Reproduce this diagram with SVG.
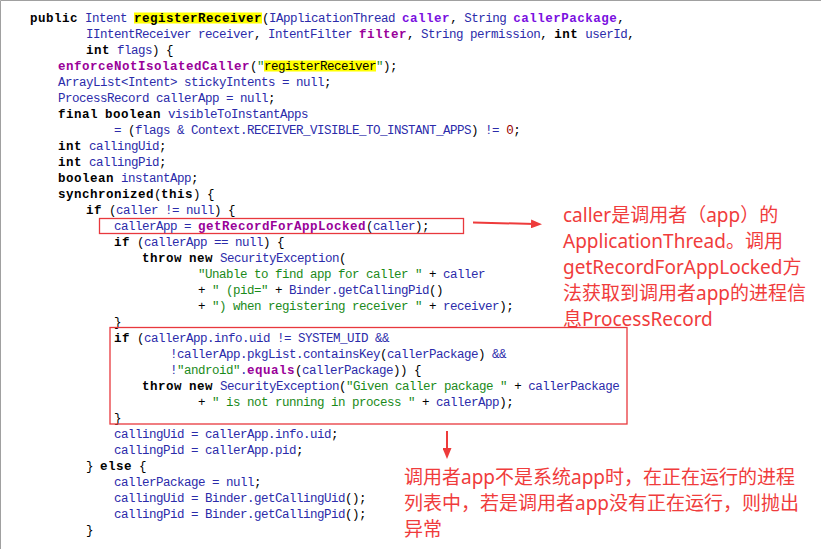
<svg xmlns="http://www.w3.org/2000/svg" width="821" height="549" viewBox="0 0 821 549">
<defs>
<style>
.c{font-family:"Liberation Mono","DejaVu Sans Mono",monospace;font-size:12.5px;letter-spacing:-0.5px;fill:#2B2BAA;}
.k{font-weight:bold;letter-spacing:0.5px;fill:#000;}
.o{fill:#000;}
.m{font-weight:bold;letter-spacing:0.5px;fill:#990099;}
.v{font-weight:bold;letter-spacing:0.5px;fill:#7A10E0;}
.s{fill:#1A8A1A;}
.n{fill:#990000;}
.hl{fill:#FFFF00;}
.box{fill:none;stroke:#E8383D;stroke-width:1.3;}
.arr{stroke:#EE3B3B;stroke-width:2;fill:none;}
.note{font-family:"Noto Sans","Noto Sans CJK SC",sans-serif;font-size:19px;fill:#F03C3C;}
</style>
<marker id="ah" markerUnits="userSpaceOnUse" markerWidth="12" markerHeight="9" refX="4" refY="4.5" orient="auto">
<path d="M0,0 L11,4.5 L0,9 Z" fill="#EE3B3B"/>
</marker>
</defs>
<rect x="0" y="0" width="821" height="549" fill="#FFFFFF"/>
<path d="M0.5,549 V0.5 H821" stroke="#A0A0A0" stroke-width="1" fill="none"/>

<g id="code">
<rect class="hl" x="134" y="12.5" width="128" height="11"/>
<rect class="hl" x="264" y="60.5" width="112" height="11"/>
<text class="c" x="30" y="22"><tspan class="k">public</tspan> Intent <tspan class="k">registerReceiver</tspan><tspan class="o">(</tspan>IApplicationThread <tspan class="v">caller</tspan><tspan class="o">,</tspan> String <tspan class="v">callerPackage</tspan><tspan class="o">,</tspan></text>
<text class="c" x="86" y="38">IIntentReceiver receiver<tspan class="o">,</tspan> IntentFilter <tspan class="m">filter</tspan><tspan class="o">,</tspan> String permission<tspan class="o">,</tspan> <tspan class="k">int</tspan> userId<tspan class="o">,</tspan></text>
<text class="c" x="86" y="54"><tspan class="k">int</tspan> flags<tspan class="o">) {</tspan></text>
<text class="c" x="58" y="70"><tspan class="m">enforceNotIsolatedCaller</tspan><tspan class="o">(</tspan><tspan class="s">"</tspan><tspan class="o">registerReceiver</tspan><tspan class="s">"</tspan><tspan class="o">);</tspan></text>
<text class="c" x="58" y="86">ArrayList&lt;Intent&gt; stickyIntents = null<tspan class="o">;</tspan></text>
<text class="c" x="58" y="102">ProcessRecord callerApp = null<tspan class="o">;</tspan></text>
<text class="c" x="58" y="118"><tspan class="k">final</tspan> <tspan class="k">boolean</tspan> visibleToInstantApps</text>
<text class="c" x="114" y="134">= <tspan class="o">(</tspan>flags &amp; Context.RECEIVER_VISIBLE_TO_INSTANT_APPS<tspan class="o">)</tspan> != <tspan class="n">0</tspan><tspan class="o">;</tspan></text>
<text class="c" x="58" y="150"><tspan class="k">int</tspan> callingUid<tspan class="o">;</tspan></text>
<text class="c" x="58" y="166"><tspan class="k">int</tspan> callingPid<tspan class="o">;</tspan></text>
<text class="c" x="58" y="182"><tspan class="k">boolean</tspan> instantApp<tspan class="o">;</tspan></text>
<text class="c" x="58" y="198"><tspan class="k">synchronized</tspan><tspan class="o">(</tspan><tspan class="k">this</tspan><tspan class="o">) {</tspan></text>
<text class="c" x="86" y="214"><tspan class="k">if</tspan> <tspan class="o">(</tspan>caller != null<tspan class="o">) {</tspan></text>
<text class="c" x="114" y="230">callerApp = <tspan class="m">getRecordForAppLocked</tspan><tspan class="o">(</tspan>caller<tspan class="o">);</tspan></text>
<text class="c" x="114" y="246"><tspan class="k">if</tspan> <tspan class="o">(</tspan>callerApp == null<tspan class="o">) {</tspan></text>
<text class="c" x="142" y="262"><tspan class="k">throw</tspan> <tspan class="k">new</tspan> SecurityException<tspan class="o">(</tspan></text>
<text class="c" x="198" y="278"><tspan class="s">"Unable to find app for caller "</tspan> <tspan class="o">+</tspan> caller</text>
<text class="c" x="198" y="294"><tspan class="o">+</tspan> <tspan class="s">" (pid="</tspan> <tspan class="o">+</tspan> Binder.getCallingPid<tspan class="o">()</tspan></text>
<text class="c" x="198" y="310"><tspan class="o">+</tspan> <tspan class="s">") when registering receiver "</tspan> <tspan class="o">+</tspan> receiver<tspan class="o">);</tspan></text>
<text class="c" x="114" y="326"><tspan class="o">}</tspan></text>
<text class="c" x="114" y="342"><tspan class="k">if</tspan> <tspan class="o">(</tspan>callerApp.info.uid != SYSTEM_UID &amp;&amp;</text>
<text class="c" x="170" y="358">!callerApp.pkgList.containsKey<tspan class="o">(</tspan>callerPackage<tspan class="o">)</tspan> &amp;&amp;</text>
<text class="c" x="170" y="374">!<tspan class="s">"android"</tspan>.<tspan class="m">equals</tspan><tspan class="o">(</tspan>callerPackage<tspan class="o">)) {</tspan></text>
<text class="c" x="142" y="390"><tspan class="k">throw</tspan> <tspan class="k">new</tspan> SecurityException<tspan class="o">(</tspan><tspan class="s">"Given caller package "</tspan> <tspan class="o">+</tspan> callerPackage</text>
<text class="c" x="198" y="406"><tspan class="o">+</tspan> <tspan class="s">" is not running in process "</tspan> <tspan class="o">+</tspan> callerApp<tspan class="o">);</tspan></text>
<text class="c" x="114" y="422"><tspan class="o">}</tspan></text>
<text class="c" x="114" y="438">callingUid = callerApp.info.uid<tspan class="o">;</tspan></text>
<text class="c" x="114" y="454">callingPid = callerApp.pid<tspan class="o">;</tspan></text>
<text class="c" x="86" y="470"><tspan class="o">}</tspan> <tspan class="k">else</tspan> <tspan class="o">{</tspan></text>
<text class="c" x="114" y="486">callerPackage = null<tspan class="o">;</tspan></text>
<text class="c" x="114" y="502">callingUid = Binder.getCallingUid<tspan class="o">();</tspan></text>
<text class="c" x="114" y="518">callingPid = Binder.getCallingPid<tspan class="o">();</tspan></text>
<text class="c" x="86" y="534"><tspan class="o">}</tspan></text>
</g>

<g id="box-getRecord">
<rect class="box" x="99.5" y="218.5" width="364" height="15"/>
</g>
<g id="box-pkgcheck">
<rect class="box" x="110" y="327.5" width="517" height="96.5"/>
</g>

<g id="connectors">
<line class="arr" x1="473" y1="222.5" x2="535" y2="224" marker-end="url(#ah)"/>
<line class="arr" x1="447" y1="431" x2="447" y2="452" marker-end="url(#ah)"/>
</g>

<g id="note-caller">
<text class="note" x="563" y="222">caller是调用者（app）的</text>
<text class="note" x="563" y="248">ApplicationThread。调用</text>
<text class="note" x="563" y="274">getRecordForAppLocked方</text>
<text class="note" x="563" y="300">法获取到调用者app的进程信</text>
<text class="note" x="563" y="326">息ProcessRecord</text>
</g>

<g id="note-exception">
<text class="note" x="404" y="484">调用者app不是系统app时，在正在运行的进程</text>
<text class="note" x="404" y="510">列表中，若是调用者app没有正在运行，则抛出</text>
<text class="note" x="404" y="536">异常</text>
</g>
</svg>
